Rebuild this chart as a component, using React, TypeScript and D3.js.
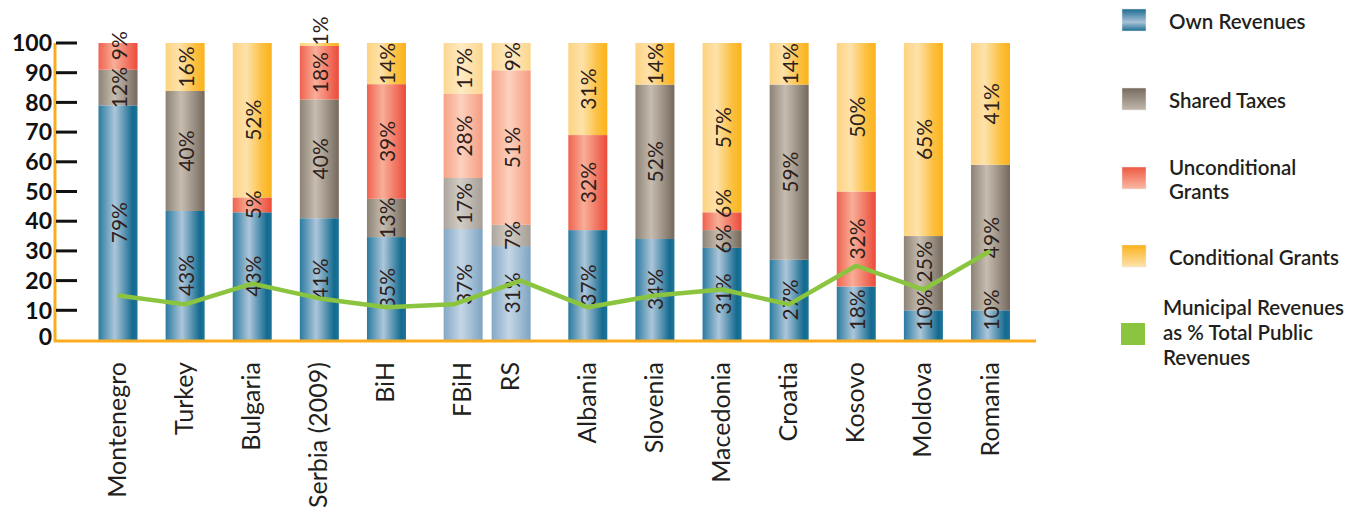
import React from "react";
import * as d3 from "d3";

const categories = ["Montenegro", "Turkey", "Bulgaria", "Serbia (2009)", "BiH", "FBiH", "RS", "Albania", "Slovenia", "Macedonia", "Croatia", "Kosovo", "Moldova", "Romania"];
const ownRevenues = [79, 43, 43, 41, 35, 37, 31, 37, 34, 31, 27, 18, 10, 10];
const sharedTaxes = [12, 40, 0, 40, 13, 17, 7, 0, 52, 6, 59, 0, 25, 49];
const unconditionalGrants = [9, 0, 5, 18, 39, 28, 51, 32, 0, 6, 0, 32, 0, 0];
const conditionalGrants = [0, 16, 52, 1, 14, 17, 9, 31, 14, 57, 14, 50, 65, 41];
const municipalShare = [15, 12, 19, 14, 11, 12, 20, 11, 15, 17, 12, 25, 17, 30];
const yTicks = [0, 10, 20, 30, 40, 50, 60, 70, 80, 90, 100];
const seriesNames = ["Own Revenues", "Shared Taxes", "Unconditional Grants", "Conditional Grants"];
const lineName = "Municipal Revenues as % Total Public Revenues";
const subEntities = ["FBiH", "RS"];

const W = 1366;
const H = 515;
const keys = ["own", "shared", "uncond", "cond"];

const grad: Record<string, string[][]> = {
  own: [["0", "#2a7aa0"], ["0.42", "#adc6da"], ["0.88", "#136a8f"], ["1", "#1d7399"]],
  shared: [["0", "#8c8276"], ["0.4", "#c6bdb0"], ["1", "#75695d"]],
  uncond: [["0", "#f0624f"], ["0.4", "#f8ae98"], ["1", "#ec4a39"]],
  cond: [["0", "#fdd380"], ["0.35", "#fde2ab"], ["0.75", "#fcc040"], ["1", "#fbb21b"]],
};
const gradPale: Record<string, string[][]> = {
  own: [["0", "#83a8c5"], ["0.45", "#c4d6e6"], ["1", "#7ea3c1"]],
  shared: [["0", "#aca59e"], ["0.42", "#d2cdc6"], ["1", "#a59e97"]],
  uncond: [["0", "#f7a285"], ["0.45", "#fcd1be"], ["1", "#f69c80"]],
  cond: [["0", "#fdd790"], ["0.45", "#feeac6"], ["1", "#fdd68c"]],
};
const legendGrad: Record<string, string[][]> = {
  own: [["0", "#1b6b91"], ["0.6", "#a9c2d7"], ["1", "#1a6d93"]],
  shared: [["0", "#776b5f"], ["1", "#c2b8ab"]],
  uncond: [["0", "#ef5842"], ["1", "#f9b9a4"]],
  cond: [["0", "#fbb21b"], ["1", "#fde3ad"]],
};

export default function App() {
  const rows = categories.map((c, i) => {
    const r: any = { cat: c, own: ownRevenues[i], shared: sharedTaxes[i], uncond: unconditionalGrants[i], cond: conditionalGrants[i] };
    r.total = r.own + r.shared + r.uncond + r.cond;
    return r;
  });
  const stack = d3.stack<any>().keys(keys).value((d, k) => (d[k] / d.total) * 100);
  const series = stack(rows);

  const y = d3.scaleLinear().domain([0, 100]).range([340, 43]);
  const xSlot = d3.scalePoint<string>().domain(categories).range([118, 990.5]);
  const barW = 39;
  const pairGap = 9;
  const pairMid = (xSlot(subEntities[0])! + xSlot(subEntities[1])!) / 2;
  const barX = (c: string) => {
    const pi = subEntities.indexOf(c);
    if (pi < 0) return xSlot(c)!;
    return pairMid + (pi === 0 ? -1 : 1) * (barW + pairGap) / 2;
  };

  const line = d3
    .line<number>()
    .x((_, i) => xSlot(categories[i])!)
    .y((d) => y(d));

  const pctFont = "Lato, 'Open Sans', sans-serif";
  const pctSize = 21;

  // label positions: centred in segment, kept above the baseline, pushed upward on collision
  const labels: { key: string; x: number; cy: number; text: string }[] = [];
  categories.forEach((c, i) => {
    let prevTop = y(0) - 4;
    series.forEach((s) => {
      const raw = (rows[i] as any)[s.key];
      if (!raw) return;
      const d = s[i];
      const text = `${raw}%`;
      const half = ((text.length - 1) * 0.6 + 0.9) * pctSize / 2;
      let cy = (y(d[0]) + y(d[1])) / 2;
      if (cy + half > prevTop - 4) cy = prevTop - 4 - half;
      prevTop = cy - half;
      labels.push({ key: `${c}-${s.key}`, x: barX(c) + 1, cy, text });
    });
  });

  const legendItems = [
    { key: "own", lines: ["Own Revenues"], sy: 9 },
    { key: "shared", lines: ["Shared Taxes"], sy: 88 },
    { key: "uncond", lines: ["Unconditional", "Grants"], sy: 167 },
    { key: "cond", lines: ["Conditional Grants"], sy: 245 },
  ];
  const lineLegendLines = ["Municipal Revenues", "as % Total Public", "Revenues"];

  return (
    <svg width={W} height={H} style={{ position: "absolute", left: 0, top: 0, background: "#fff" }}>
      <defs>
        {keys.map((k) => (
          <linearGradient key={k} id={`g-${k}`} x1="0" y1="0" x2="1" y2="0">
            {grad[k].map(([o, c]) => <stop key={o} offset={o} stopColor={c} />)}
          </linearGradient>
        ))}
        {keys.map((k) => (
          <linearGradient key={k} id={`gp-${k}`} x1="0" y1="0" x2="1" y2="0">
            {gradPale[k].map(([o, c]) => <stop key={o} offset={o} stopColor={c} />)}
          </linearGradient>
        ))}
        {keys.map((k) => (
          <linearGradient key={k} id={`gl-${k}`} x1="0" y1="0" x2="0" y2="1">
            {legendGrad[k].map(([o, c]) => <stop key={o} offset={o} stopColor={c} />)}
          </linearGradient>
        ))}
      </defs>

      {/* bars */}
      {series.map((s) => (
        <g key={s.key}>
          {s.map((d, i) => {
            const c = categories[i];
            if (d[1] - d[0] <= 0) return null;
            const pale = subEntities.includes(c);
            return (
              <rect
                key={c}
                x={barX(c) - barW / 2}
                y={y(d[1])}
                width={barW}
                height={y(d[0]) - y(d[1])}
                fill={`url(#${pale ? "gp" : "g"}-${s.key})`}
              />
            );
          })}
        </g>
      ))}

      {/* percentage labels */}
      <g>
        {labels.map((l) => (
          <text
            key={l.key}
            transform={`translate(${l.x},${l.cy}) rotate(-90)`}
            textAnchor="middle"
            dy="0.36em"
            fontFamily={pctFont}
            fontWeight={400}
            fontSize={pctSize}
            fill="#2e211c"
          >
            {l.text}
          </text>
        ))}
      </g>

      {/* green line */}
      <path d={line(municipalShare) || ""} fill="none" stroke="#8bc53f" strokeWidth={4.5} strokeLinejoin="round" />

      {/* axes */}
      <line x1={55} x2={55} y1={y(100)} y2={y(0) + 2} stroke="#f9ad1e" strokeWidth={3} />
      <line x1={54} x2={1036} y1={y(0) + 1} y2={y(0) + 1} stroke="#f9ad1e" strokeWidth={3} />
      {yTicks.map((t) => (
        <g key={t}>
          {t > 0 && <line x1={56} x2={77} y1={y(t)} y2={y(t)} stroke="#111" strokeWidth={3} />}
          <text
            x={52}
            y={y(t)}
            dy={t === 0 ? "0.2em" : "0.36em"}
            textAnchor="end"
            fontFamily="Lato, sans-serif"
            fontWeight={700}
            fontSize={23}
            fill="#111"
          >
            {t}
          </text>
        </g>
      ))}

      {/* x labels */}
      {categories.map((c) => (
        <text
          key={c}
          transform={`translate(${barX(c)},362) rotate(-90)`}
          textAnchor="end"
          dy="0.32em"
          fontFamily="Lato, sans-serif"
          fontWeight={400}
          fontSize={25}
          fill="#231f20"
        >
          {c}
        </text>
      ))}

      {/* legend */}
      {legendItems.map((it, idx) => (
        <g key={it.key}>
          <rect x={1122} y={it.sy} width={24} height={22} fill={`url(#gl-${it.key})`} stroke="#e8e8e8" strokeWidth={0.5} />
          {it.lines.map((ln, j) => (
            <text
              key={j}
              x={1169}
              y={it.lines.length > 1 ? it.sy + 8 + j * 24 : it.sy + 20}
              fontFamily="Lato, sans-serif"
              fontWeight={600}
              fontSize={20.5}
              fill="#231f20"
              aria-label={j === 0 ? seriesNames[idx] : undefined}
            >
              {ln}
            </text>
          ))}
        </g>
      ))}
      <g>
        <rect x={1121} y={323} width={24} height={22} fill="#8bc53f" />
        {lineLegendLines.map((ln, j) => (
          <text
            key={j}
            x={1163}
            y={315 + j * 25}
            fontFamily="Lato, sans-serif"
            fontWeight={600}
            fontSize={20.5}
            fill="#231f20"
            aria-label={j === 0 ? lineName : undefined}
          >
            {ln}
          </text>
        ))}
      </g>
    </svg>
  );
}
